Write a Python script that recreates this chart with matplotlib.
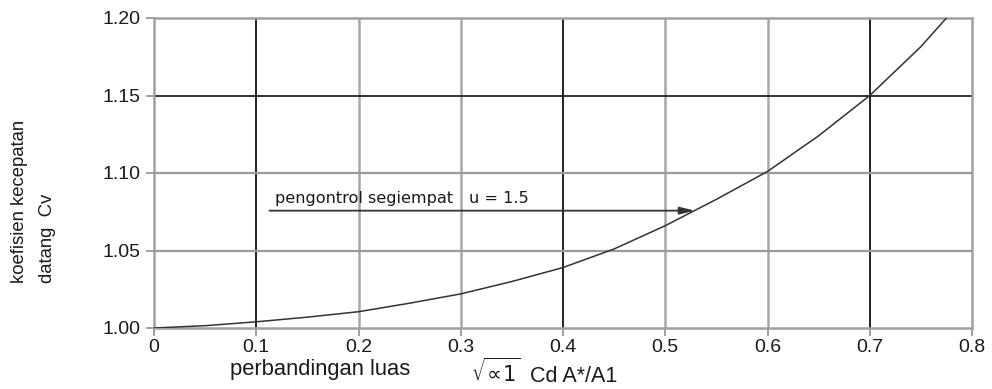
import matplotlib
matplotlib.use("Agg")
import matplotlib.pyplot as plt

# ---- data ----
ratio = [0.0, 0.05, 0.1, 0.15, 0.2, 0.25, 0.3, 0.35, 0.4, 0.45,
         0.5, 0.55, 0.6, 0.65, 0.7, 0.75, 0.775]
cv = [1.000, 1.0015, 1.004, 1.007, 1.0105, 1.016, 1.022, 1.030, 1.039, 1.051,
      1.066, 1.083, 1.101, 1.124, 1.150, 1.1815, 1.200]

x_ticks = [0.0, 0.1, 0.2, 0.3, 0.4, 0.5, 0.6, 0.7, 0.8]
x_tick_labels = ["0", "0.1", "0.2", "0.3", "0.4", "0.5", "0.6", "0.7", "0.8"]
y_ticks = [1.00, 1.05, 1.10, 1.15, 1.20]
y_tick_labels = ["1.00", "1.05", "1.10", "1.15", "1.20"]

dark_x = [0.1, 0.4, 0.7]
dark_y = [1.15]

arrow_start = (0.113, 1.0757)
arrow_end = (0.529, 1.0757)
note_text_1 = "pengontrol segiempat"
note_text_2 = "u = 1.5"

plt.rcParams['font.family'] = ['Liberation Sans', 'DejaVu Sans']

fig = plt.figure(figsize=(9.92, 3.89), dpi=100)
ax = fig.add_axes([154/992, 1-328/389, (972-154)/992, (328-18)/389])

ax.set_xlim(0, 0.8)
ax.set_ylim(1.0, 1.2)

# grid lines
for xv in x_ticks[1:-1]:
    if xv in dark_x:
        ax.axvline(xv, color='#111111', lw=1.3, zorder=1)
    else:
        ax.axvline(xv, color='#a8a8a8', lw=1.8, zorder=1)
for yv in y_ticks[1:-1]:
    if yv in dark_y:
        ax.axhline(yv, color='#222222', lw=1.3, zorder=1)
    else:
        ax.axhline(yv, color='#9a9a9a', lw=1.6, zorder=1)

for sp in ax.spines.values():
    sp.set_color('#a0a0a0')
    sp.set_linewidth(1.8)

ax.plot(ratio, cv, color='#333333', lw=1.1, zorder=3)

ax.set_xticks(x_ticks)
ax.set_xticklabels(x_tick_labels)
ax.set_yticks(y_ticks)
ax.set_yticklabels(y_tick_labels)
ax.tick_params(axis='both', direction='out', length=6, width=1.3,
               colors='#999999', labelcolor='#1a1a1a', labelsize=14)
ax.tick_params(axis='x', pad=2)
ax.tick_params(axis='y', pad=4)
for xv, t in zip(x_ticks, ax.xaxis.get_major_ticks()):
    if xv in dark_x:
        t.tick1line.set_color('#111111')

# annotation
ax.annotate('', xy=arrow_end, xytext=arrow_start,
            arrowprops=dict(arrowstyle='-|>,head_length=0.9,head_width=0.22',
                            color='#333333', lw=1.3, shrinkA=0, shrinkB=0),
            zorder=4)
ax.text(0.118, 1.0806, note_text_1, fontsize=11.6, family=['DejaVu Sans'],
        color='#1a1a1a', ha='left', va='baseline', zorder=5)
ax.text(0.308, 1.0806, note_text_2, fontsize=11.6, family=['DejaVu Sans'],
        color='#1a1a1a', ha='left', va='baseline', zorder=5)

# axis labels
fig.text(230/992, 1-370/389, "perbandingan luas", fontsize=15.8,
         color='#1a1a1a', ha='left', va='center')
fig.text(471/992, 1-372/389, r"$\sqrt{\!\propto\!1}$", fontsize=15,
         color='#1a1a1a', ha='left', va='center')
fig.text(530/992, 1-376/389, "Cd A*/A1", fontsize=15.5,
         color='#1a1a1a', ha='left', va='center')

fig.text(20/992, 1-283/389, "koefisien kecepatan", fontsize=13.3, rotation=90,
         color='#1a1a1a', ha='center', va='bottom')
fig.text(47/992, 1-283/389, "datang  Cv", fontsize=13.3, rotation=90,
         color='#1a1a1a', ha='center', va='bottom')

fig.savefig("out.png", dpi=100)
